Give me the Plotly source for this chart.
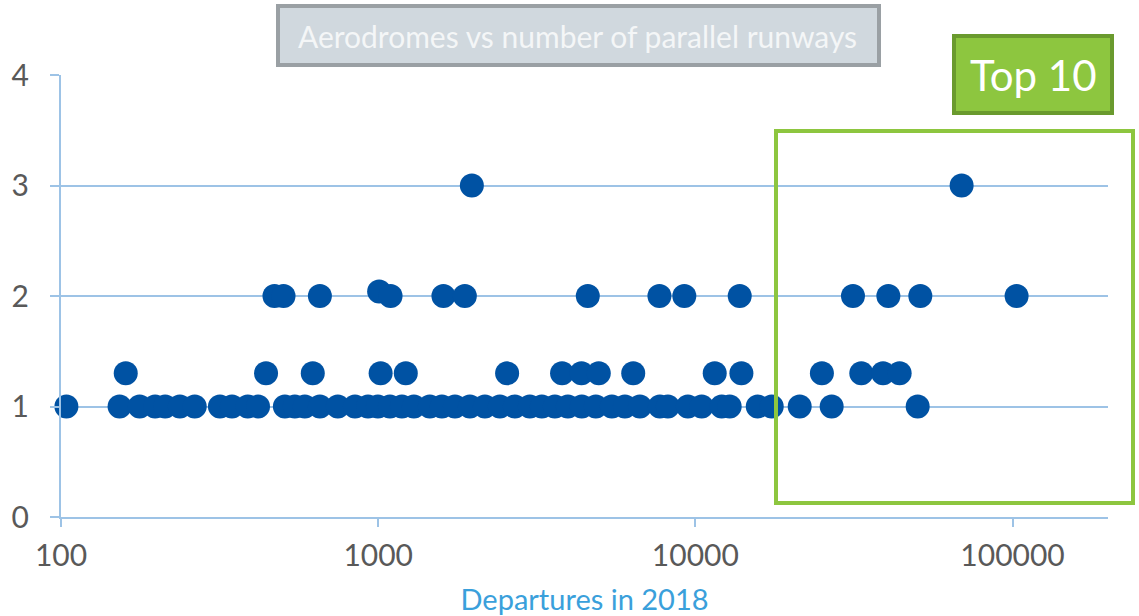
import plotly.graph_objects as go

# Departures in 2018 (x) and number of parallel runways (y)
dep_one = [104, 153, 177, 198, 213, 237, 264, 317, 346, 388, 418, 508, 546, 587, 655,
           746, 845, 929, 998, 1089, 1188, 1296, 1455, 1588, 1746, 1946, 2170, 2419,
           2697, 3007, 3281, 3606, 3963, 4385, 4855, 5454, 5996, 6686, 7730, 8190,
           9470, 10470, 12110, 12830, 15730, 17410, 21330, 26900, 50230]
run_one = [1] * len(dep_one)

dep_onethree = [160, 443, 622, 1018, 1222, 2550, 3800, 4375, 4960, 6370, 11510, 13970,
                25060, 33360, 39060, 44060]
run_onethree = [1.3] * len(dep_onethree)

dep_two = [471, 503, 655, 1007, 1094, 1606, 1876, 4580, 7705, 9230, 13800,
           31400, 40600, 51200, 103000]
run_two = [2, 2, 2, 2.04, 2, 2, 2, 2, 2, 2, 2, 2, 2, 2, 2]

dep_three = [1974, 69100]
run_three = [3, 3]

x_tickvals = [100, 1000, 10000, 100000]
x_ticktext = ["100", "1000", "10000", "100000"]
y_tickvals = [0, 1, 2, 3, 4]

title_text = "Aerodromes vs number of parallel runways"
x_title = "Departures in 2018"
box_label = "Top 10"

FONT = "Lato"
grid = "#9DC3E6"
marker_color = "#0052A3"

xs = dep_one + dep_onethree + dep_two + dep_three
ys = run_one + run_onethree + run_two + run_three

fig = go.Figure()
fig.add_trace(go.Scatter(
    x=xs, y=ys, mode="markers",
    marker=dict(size=24, color=marker_color, line=dict(width=0)),
    showlegend=False, cliponaxis=False,
))

fig.update_layout(
    width=1139, height=616,
    margin=dict(l=61, r=31, t=75, b=99, autoexpand=False),
    paper_bgcolor="white", plot_bgcolor="white",
    font=dict(family=FONT, size=30, color="#595959"),
    xaxis=dict(
        type="log", range=[2, 5.301], automargin=False,
        tickvals=x_tickvals, ticktext=x_ticktext,
        showgrid=False, zeroline=False,
        showline=True, linecolor=grid, linewidth=2,
        ticks="outside", ticklen=8, tickcolor=grid, tickwidth=1.5,
        tickfont=dict(family=FONT, size=30, color="#595959"),
        ticklabelstandoff=3,
        title=dict(text=x_title, font=dict(family=FONT, size=29, color="#3AA0DB"), standoff=28),
    ),
    yaxis=dict(
        range=[0, 4], tickvals=y_tickvals, automargin=False,
        showgrid=True, gridcolor=grid, gridwidth=2,
        zeroline=False,
        showline=True, linecolor=grid, linewidth=2,
        ticks="outside", ticklen=9, tickcolor=grid, tickwidth=2,
        tickfont=dict(family=FONT, size=30, color="#595959"),
        ticklabelstandoff=15,
    ),
)

# Plot area on screen: x 61..1108 px, y 75..517 px
def px(xp):
    return (xp - 61) / 1047.0

def py(yp):
    return (517 - yp) / 442.0

shapes = [
    # title box
    dict(type="rect", xref="paper", yref="paper", x0=px(278), x1=px(879), y0=py(65), y1=py(6),
         fillcolor="#D0D8DE", line=dict(color="#9AA0A4", width=4), layer="above"),
    # Top 10 highlight area
    dict(type="rect", xref="paper", yref="paper", x0=px(776), x1=px(1133), y0=py(503), y1=py(131),
         fillcolor="rgba(0,0,0,0)", line=dict(color="#8DC63F", width=4), layer="above"),
    # Top 10 label box
    dict(type="rect", xref="paper", yref="paper", x0=px(954), x1=px(1112), y0=py(113), y1=py(36),
         fillcolor="#8DC63F", line=dict(color="#6A9A2E", width=4), layer="above"),
]
fig.update_layout(shapes=shapes)

fig.add_annotation(xref="paper", yref="paper", x=px(577), y=py(36), text=title_text,
                   showarrow=False, xanchor="center", yanchor="middle",
                   font=dict(family=FONT, size=30, color="#F4F6F7"))
fig.add_annotation(xref="paper", yref="paper", x=px(1033), y=py(75), text=box_label,
                   showarrow=False, xanchor="center", yanchor="middle",
                   font=dict(family=FONT, size=42, color="white"))

fig.write_html("out.html", config={"displayModeBar": False},
               post_script="document.body.style.margin='0px';")
